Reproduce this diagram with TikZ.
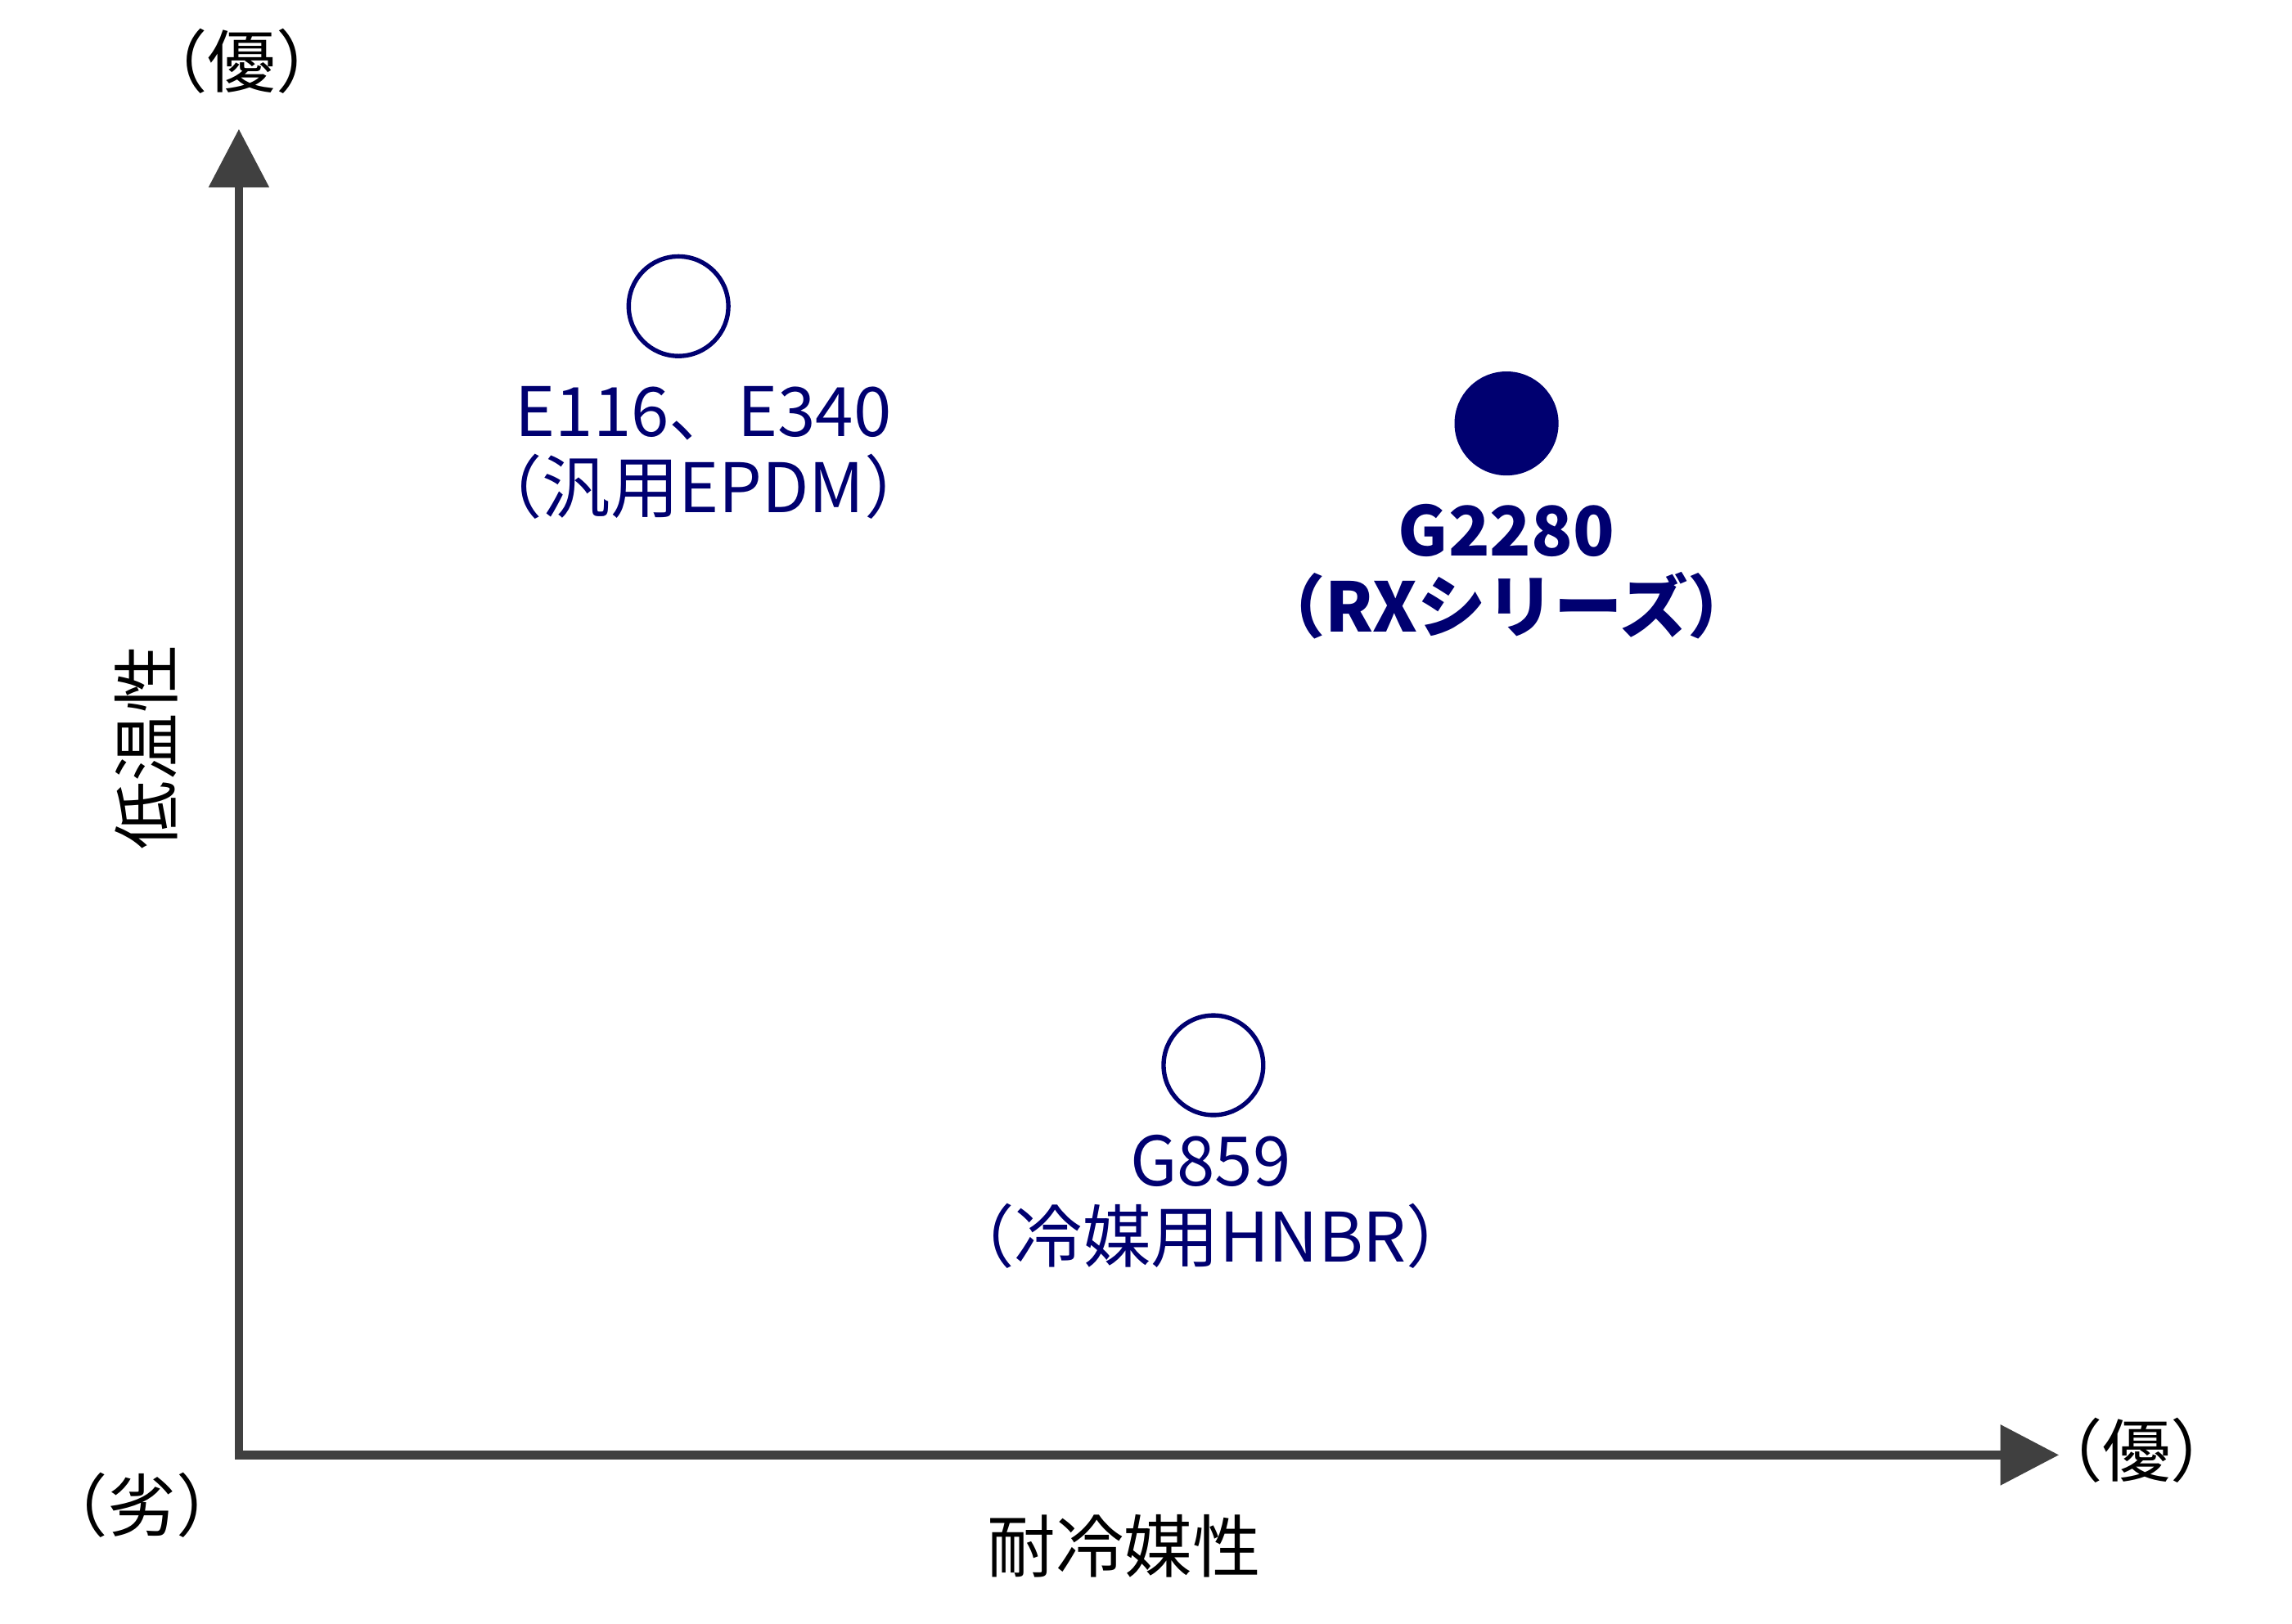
\documentclass[tikz,border=0pt]{standalone}
\usepackage{fontspec}
\setmainfont{Noto Sans CJK JP}
\usetikzlibrary{arrows.meta}
\definecolor{navy}{RGB}{0,0,112}
\definecolor{axisgray}{RGB}{64,64,64}
\begin{document}
\begin{tikzpicture}[x=0.5pt,y=-0.5pt,
  ax/.style={draw=axisgray,line width=3pt,-{Triangle[length=20pt,width=20pt]}},
  lbl/.style={font=\fontsize{23.3}{27}\selectfont,inner sep=0},
  pt/.style={text=navy,font=\fontsize{23.3}{27}\selectfont,inner sep=0,align=center},
  dot/.style={circle,draw=navy,line width=1.5pt,minimum size=34pt,inner sep=0}]
\path[use as bounding box] (0,0) rectangle (1564,1108);
\coordinate (o) at (163,993);
\coordinate (ytip) at (163,88);
\coordinate (xtip) at (1405,993);
\draw[ax] (163,996) -- (ytip);
\draw[ax] (160,993) -- (xtip);
\node[lbl] (t1) at (165,42) {（優）};
\node[lbl] (t2) at (1458,990) {（優）};
\node[lbl] (t3) at (97,1027) {（劣）};
\node[lbl,rotate=90] (yl) at (100,510) {低温性};
\node[lbl] (xl) at (767,1055) {耐冷媒性};
\node[dot] (c1) at (463,209) {};
\node[dot,fill=navy] (c2) at (1028,289) {};
\node[dot] (c3) at (828,727) {};
\node[pt] (l1) at (480,309) {E116、E340\\[-1pt]（汎用EPDM）};
\node[pt,font=\fontsize{23.3}{27}\selectfont\bfseries] (l2) at (1028,390) {G2280\\[-1pt]（RXシリーズ）};
\node[pt] (l3) at (826,820) {G859\\[-1pt]（冷媒用HNBR）};
\end{tikzpicture}
\end{document}
